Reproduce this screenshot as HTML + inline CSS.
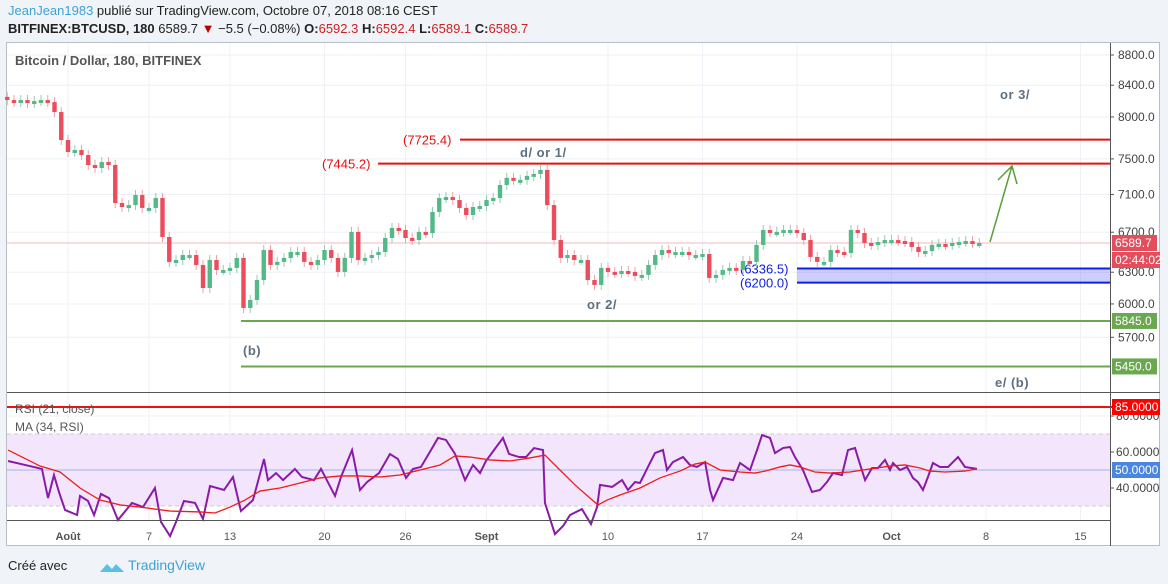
<!DOCTYPE html>
<html><head><meta charset="utf-8">
<style>
body{margin:0;width:1168px;height:584px;background:#f0f3f7;font-family:"Liberation Sans",sans-serif;overflow:hidden;position:relative}
.hdr{position:absolute;left:8px;font-size:13px;color:#222;white-space:nowrap}
svg{position:absolute;left:0;top:0}
</style></head><body>
<div class="hdr" style="top:3px"><span style="color:#3ba3d8">JeanJean1983</span> publié sur TradingView.com, Octobre 07, 2018 08:16 CEST</div>
<div class="hdr" style="top:21px"><b>BITFINEX:BTCUSD, 180</b> 6589.7 <span style="color:#b00">▼</span> −5.5 (−0.08%) <b>O:</b><span style="color:#c22">6592.3</span> <b>H:</b><span style="color:#c22">6592.4</span> <b>L:</b><span style="color:#c22">6589.1</span> <b>C:</b><span style="color:#c22">6589.7</span></div>
<svg id="c" width="1168" height="584" xmlns="http://www.w3.org/2000/svg" font-family="Liberation Sans, sans-serif"></svg>
<div class="hdr" style="top:558px;left:8px;font-size:13px">Créé avec</div>
<div class="hdr" style="top:557px;left:128px;font-size:14px;color:#3ba3d8">TradingView</div>
<svg width="26" height="14" style="left:99px;top:560px"><path d="M1 12 L8 4 L13 9 L17 4 L25 12 Z" fill="#5bc0e8"/></svg>
<script>
const startDay=-4.5, stepDay=0.5;
const closes=[8211,8185,8211,8173,8198,8211,8185,8061,7721,7580,7603,7545,7430,7396,7464,7430,7008,6965,6986,7095,6955,6955,7062,6651,6401,6420,6469,6469,6371,6149,6420,6322,6322,6342,6440,5963,6037,6225,6519,6371,6401,6440,6499,6499,6401,6371,6420,6519,6440,6303,6440,6703,6420,6440,6469,6499,6641,6744,6723,6641,6620,6703,6692,6912,7062,7073,7040,6955,6880,6965,6976,7040,7062,7205,7284,7262,7262,7306,7329,7374,6986,6620,6440,6469,6420,6420,6225,6178,6342,6303,6293,6312,6303,6264,6274,6371,6469,6519,6489,6499,6499,6469,6469,6479,6245,6274,6322,6342,6322,6410,6401,6570,6723,6703,6703,6723,6723,6692,6620,6450,6401,6401,6519,6499,6489,6723,6692,6590,6570,6600,6620,6620,6610,6600,6550,6499,6509,6570,6580,6570,6590,6600,6610,6590,6590];
const rsiDays=[-4.44,-3.19,-1.93,-1.48,-1.04,-0.67,-0.22,0.67,0.89,1.48,1.93,2.44,3.04,3.70,4.74,5.56,6.44,6.89,7.56,8.00,8.59,9.41,10.0,10.52,11.56,12.22,12.81,13.70,14.52,14.81,15.41,15.93,16.81,17.33,18.22,18.74,19.78,20.22,21.04,21.63,22.15,23.04,23.85,24.44,25.04,25.56,26.15,26.89,27.41,28.0,28.67,29.41,30.0,30.52,30.96,31.56,32.22,32.67,33.41,33.93,34.52,35.19,35.33,36.07,36.67,37.19,38.07,38.74,39.19,39.41,40.30,41.04,41.48,42.0,42.37,42.96,43.48,44.07,44.37,44.81,45.56,46.07,46.59,47.19,47.56,47.78,48.52,49.26,49.78,50.52,51.04,51.41,52.0,52.37,52.96,53.48,53.85,54.44,55.11,55.70,56.22,56.67,57.33,57.78,58.30,58.52,59.04,59.56,60.0,60.52,60.89,61.11,61.63,62.15,62.59,62.96,63.33,63.70,64.07,64.59,65.19,65.93,66.44,67.33];
const rsiVals=[55.0,52.8,50.6,34.4,47.2,37.8,27.8,25.0,35.6,32.8,25.0,36.7,34.4,22.2,31.7,29.4,40.0,21.1,13.3,21.1,32.8,31.7,22.8,41.1,38.9,46.1,27.2,33.3,56.1,44.4,48.3,44.4,50.6,46.1,44.4,50.6,35.6,46.1,61.1,38.9,43.3,48.3,58.9,56.1,45.6,50.6,51.7,61.1,67.8,66.7,58.9,44.4,52.8,48.3,55.0,61.1,67.8,58.9,57.2,57.2,62.2,61.1,31.7,14.4,18.9,25.0,28.3,20.0,29.4,41.7,40.6,44.4,38.9,43.3,42.8,51.7,59.4,61.1,50.0,54.4,57.2,52.8,51.7,54.4,38.9,33.3,45.6,44.4,53.9,50.0,61.1,69.4,67.8,59.4,62.2,62.8,57.2,50.0,37.8,38.9,43.3,48.3,47.2,61.1,62.2,56.7,44.4,51.1,51.1,55.6,50.0,53.9,50.0,51.7,45.6,43.3,38.9,46.1,53.9,51.7,51.7,57.2,51.7,50.6];
const maDays=[-4.44,-2.07,-0.59,0.89,2.37,3.85,5.33,7.56,9.78,10.89,12.0,13.11,14.22,15.70,17.19,18.67,20.15,21.63,23.11,24.59,26.07,27.56,28.67,29.78,31.26,32.74,34.22,35.33,36.44,37.56,38.67,39.26,39.93,40.89,42.37,43.85,45.33,46.44,47.19,48.30,49.78,50.89,51.63,52.74,53.48,54.22,55.33,56.44,57.93,59.41,60.89,62.0,63.11,63.85,64.96,66.44,67.33];
const maVals=[61.1,52.2,48.9,40.0,33.3,30.6,29.4,27.2,26.7,26.1,29.4,33.3,38.3,40.0,42.8,45.6,46.7,46.7,46.1,47.2,50.0,52.8,57.8,57.2,55.6,55.0,56.7,58.3,50.0,41.7,34.4,30.6,33.3,36.1,40.0,45.6,49.4,53.3,54.4,50.0,48.9,48.3,49.4,51.7,52.8,51.7,48.9,48.3,48.9,50.6,52.2,52.8,51.1,49.4,48.9,49.4,50.6];
const priceTicks=[8800,8400,8000,7500,7100,6700,6300,6000,5700];
const rsiTicks=[80,60,40];
const timeLabels=["Août","7","13","20","26","Sept","10","17","24","Oct","8","15"];
const timeDays=[0,6,12,19,25,31,40,47,54,61,68,75];
const boldLabels=["Août","Sept","Oct"];

const NS="http://www.w3.org/2000/svg";
const svg=document.getElementById('c');
const X=d=>68+d*13.5;
const Y=p=>55+(Math.log(8800)-Math.log(p))*650;
const R=v=>470-(v-50)*1.8;
function el(tag,attrs,parent){const e=document.createElementNS(NS,tag);for(const k in attrs)e.setAttribute(k,attrs[k]);(parent||svg).appendChild(e);return e;}
function txt(s,attrs,parent){const e=el('text',attrs,parent);e.textContent=s;return e;}

const frame=el('rect',{x:6.5,y:42.5,width:1153,height:503,fill:'#fff',stroke:'#b8bec6'});

const grid=el('g',{stroke:'#eef2f6','stroke-width':1});

timeDays.forEach(d=>el('line',{x1:X(d),x2:X(d),y1:43,y2:520},grid));
priceTicks.forEach(p=>el('line',{x1:7,x2:1110,y1:Y(p),y2:Y(p)},grid));
[80,60,40].forEach(v=>el('line',{x1:7,x2:1110,y1:R(v),y2:R(v)},grid));

const t=txt('Bitcoin / Dollar, 180, BITFINEX',{x:15,y:65,'font-size':13,fill:'#555','font-weight':'bold'});


const lp=el('line',{x1:7,x2:1110,y1:Y(6589.7),y2:Y(6589.7),stroke:'#f4b8be'});


const bx=el('rect',{x:797,y:Y(6336.5),width:313,height:Y(6200)-Y(6336.5),fill:'rgba(90,90,255,0.3)'});

[6336.5,6200].forEach(p=>{const l=el('line',{x1:797,x2:1110,y1:Y(p),y2:Y(p),stroke:'#1020e0','stroke-width':2});});
const s1=txt('(6336.5)',{x:740,y:Y(6336.5)+5,'font-size':13,fill:'#1020e0'});
const s2=txt('(6200.0)',{x:740,y:Y(6200)+5,'font-size':13,fill:'#1020e0'});

const r1=el('line',{x1:460,x2:1110,y1:Y(7725.4),y2:Y(7725.4),stroke:'#e81010','stroke-width':2});
const r2=el('line',{x1:378,x2:1110,y1:Y(7445.2),y2:Y(7445.2),stroke:'#e81010','stroke-width':2});
const rl1=txt('(7725.4)',{x:403,y:Y(7725.4)+5,'font-size':13,fill:'#e81010'});
const rl2=txt('(7445.2)',{x:322,y:Y(7445.2)+5,'font-size':13,fill:'#e81010'});
[[5845,'support-5845'],[5450,'support-5450']].forEach(([p,n])=>{const l=el('line',{x1:241,x2:1110,y1:Y(p),y2:Y(p),stroke:'#6aa84f','stroke-width':2});});

[['d/ or 1/',520,157,'wave-label-d'],['or 3/',1000,99,'wave-label-3'],['or 2/',587,309,'wave-label-2'],['(b)',243,355,'wave-label-b'],['e/ (b)',995,387,'wave-label-e']].forEach(([s,x,y,n])=>{const e=txt(s,{x:x,y:y,'font-size':13,'font-weight':'bold',fill:'#5d7080','letter-spacing':'0.5'});});

const cg=el('g',{});
closes.forEach((c,i)=>{
  const o=i?closes[i-1]:c+40;const d=startDay+i*stepDay;const x=X(d);
  const up=c>=o;const col=up?'#53b987':'#eb4d5c';
  const yt=Y(Math.max(o,c)),yb=Y(Math.min(o,c));
  const w=el('line',{x1:x,x2:x,y1:yt-5,y2:yb+5,stroke:up?'#9cc7b5':'#f0a0a8'},cg);
  
  const b=el('rect',{x:x-2.2,y:yt,width:4.4,height:Math.max(3,yb-yt),fill:col},cg);
  
});

const ar=el('path',{d:'M990 242 L1012 166 M998 180 L1012 166 L1017 184',stroke:'#5a9e3a','stroke-width':1.5,fill:'none'});


const pd=el('line',{x1:7,x2:1160,y1:392.5,y2:392.5,stroke:'#555'});
const band=el('rect',{x:7,y:R(70),width:1103,height:R(30)-R(70),fill:'#f3e6fc'});
[70,30].forEach(v=>{const l=el('line',{x1:7,x2:1110,y1:R(v),y2:R(v),stroke:'#ccc','stroke-dasharray':'4 3'});});
const l50=el('line',{x1:7,x2:1110,y1:R(50),y2:R(50),stroke:'#9db4f0'});
const l85=el('line',{x1:7,x2:1160,y1:R(85),y2:R(85),stroke:'#f01010','stroke-width':2});
const rs=el('polyline',{points:rsiDays.map((d,i)=>X(d)+','+R(rsiVals[i])).join(' '),fill:'none',stroke:'#8a1aa8','stroke-width':2});

const ma=el('polyline',{points:maDays.map((d,i)=>X(d)+','+R(maVals[i])).join(' '),fill:'none',stroke:'#ee1c1c','stroke-width':1.3});

const rt=txt('RSI (21, close)',{x:15,y:413,'font-size':12,fill:'#555'});
const mt=txt('MA (34, RSI)',{x:15,y:431,'font-size':12,fill:'#555'});

const ax=el('line',{x1:1110.5,x2:1110.5,y1:43,y2:546,stroke:'#555'});
const tx=el('line',{x1:7,x2:1110,y1:520.5,y2:520.5,stroke:'#555'});
priceTicks.forEach(p=>{el('line',{x1:1110,x2:1114,y1:Y(p),y2:Y(p),stroke:'#555'});const e=txt(p.toFixed(1),{x:1118,y:Y(p)+4,'font-size':12,fill:'#444'});});
rsiTicks.forEach(v=>{el('line',{x1:1110,x2:1114,y1:R(v),y2:R(v),stroke:'#555'});const e=txt(v.toFixed(4),{x:1116,y:R(v)+4,'font-size':12,fill:'#444'});});
timeLabels.forEach((s,i)=>{const e=txt(s,{x:X(timeDays[i]),y:540,'font-size':11,fill:'#555','text-anchor':'middle','font-weight':boldLabels.includes(s)?'bold':'normal'});});

function badge(y,s,bg,w,n){const g=el('g',{});el('rect',{x:1112,y:y-8,width:w,height:16,fill:bg},g);txt(s,{x:1115,y:y+4,'font-size':12,fill:'#fff'},g);}
badge(Y(6589.7),'6589.7','#e34d5c',45,'last-price-badge');
badge(Y(6589.7)+17,'02:44:02','#e34d5c',48,'countdown-badge');
badge(Y(5845),'5845.0','#6aa84f',45,'support-5845-badge');
badge(Y(5450),'5450.0','#6aa84f',45,'support-5450-badge');
badge(R(85),'85.0000','#ff0000',48,'rsi-85-badge');
badge(R(50),'50.0000','#4a86e0',48,'rsi-50-badge');
</script>
</body></html>
